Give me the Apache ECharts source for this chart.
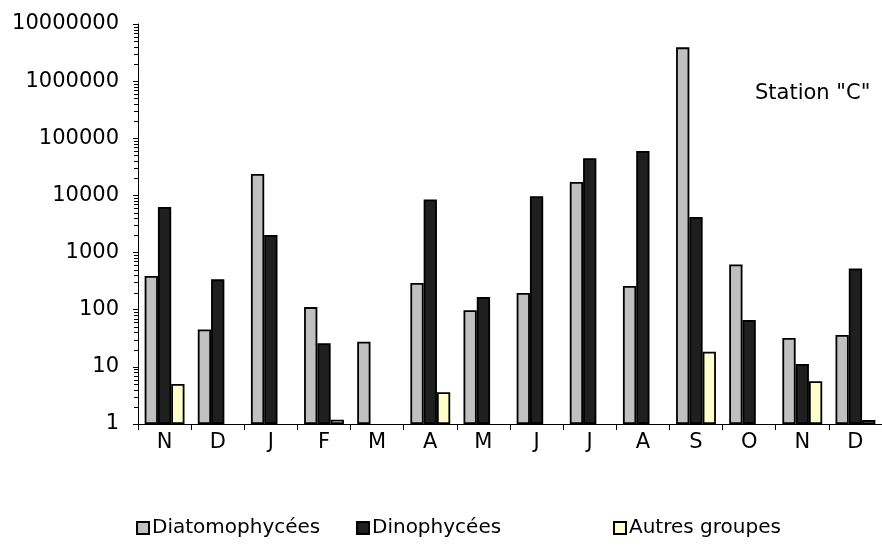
<!DOCTYPE html>
<html>
<head>
<meta charset="utf-8">
<script src="https://cdn.jsdelivr.net/npm/echarts@6/dist/echarts.min.js"></script>
<style>
html,body{margin:0;padding:0;background:#fff;}
#c{width:882px;height:546px;}
</style>
</head>
<body>
<div id="c"></div>
<script>
const categories = ['N','D','J','F','M','A','M','J','J','A','S','O','N','D'];
const seriesNames = ['Diatomophycées','Dinophycées','Autres groupes'];
const diatomophycees = [390, 45, 23700, 111, 27.5, 294, 98, 196, 17200, 260, 3900000, 620, 32, 36];
const dinophycees = [6300, 340, 2030, 26, null, 8500, 167, 9700, 44600, 60000, 4200, 66, 11.2, 524];
const autresGroupes = [5.0, null, null, 1.19, null, 3.6, null, null, null, null, 18.4, null, 5.6, 1.17];
const yTickLabels = ['1','10','100','1000','10000','100000','1000000','10000000'];
const minorMultipliers = [2,3,4,5,6,7,8,9];
const decades = [1,10,100,1000,10000,100000,1000000];

const colors = ['#c0c0c0', '#1f1f1f', '#ffffcc'];
const FONT = 'DejaVu Sans';

const minorTickData = [];
decades.forEach(d => minorMultipliers.forEach(m => minorTickData.push([0, d * m])));

function toData(arr){ return arr.map(v => v == null ? '-' : v); }

const chart = echarts.init(document.getElementById('c'), null, {renderer:'canvas'});

const barSeries = [diatomophycees, dinophycees, autresGroupes].map((arr, i) => ({
  name: seriesNames[i],
  type: 'bar',
  data: toData(arr),
  barGap: '0%',
  barCategoryGap: '25%',
  itemStyle: { color: colors[i], borderColor: '#000', borderWidth: 1.8 },
  emphasis: { disabled: true },
  animation: false
}));

const legendBase = {
  orient: 'horizontal',
  top: 513,
  itemWidth: 12,
  itemHeight: 12,
  itemGap: 0,
  textStyle: { fontFamily: FONT, fontSize: 20, color: '#000', padding: [0,0,0,-2] },
  selectedMode: false,
  icon: 'rect'
};

chart.setOption({
  backgroundColor: '#fff',
  animation: false,
  textStyle: { fontFamily: FONT },
  title: {
    text: 'Station "C"',
    left: 750,
    top: 78,
    textStyle: { fontFamily: FONT, fontSize: 21, fontWeight: 'normal', color: '#000' }
  },
  legend: [
    Object.assign({}, legendBase, { left: 131, data: [seriesNames[0]] }),
    Object.assign({}, legendBase, { left: 351, data: [seriesNames[1]] }),
    Object.assign({}, legendBase, { left: 608, data: [seriesNames[2]] })
  ],
  grid: { left: 138, top: 24, width: 745, height: 400, containLabel: false },
  xAxis: {
    type: 'category',
    data: categories,
    boundaryGap: true,
    axisLine: { show: true, lineStyle: { color: '#000', width: 1 } },
    axisTick: { show: true, length: 6, alignWithLabel: false, lineStyle: { color: '#000' } },
    axisLabel: { fontFamily: FONT, fontSize: 21, color: '#000', margin: 8, interval: 0 },
    splitLine: { show: false }
  },
  yAxis: {
    type: 'log',
    logBase: 10,
    min: 1,
    max: 10000000,
    splitNumber: 7,
    axisLine: { show: true, lineStyle: { color: '#000', width: 1 } },
    axisTick: { show: true, length: 5, lineStyle: { color: '#000' } },
    axisLabel: {
      fontFamily: FONT, fontSize: 21, color: '#000', margin: 19,
      formatter: function (v) {
        const idx = Math.round(Math.log10(v));
        return yTickLabels[idx] !== undefined ? yTickLabels[idx] : String(Math.round(v));
      }
    },
    splitLine: { show: false }
  },
  series: barSeries.concat([{
    type: 'custom',
    name: 'minorTicks',
    coordinateSystem: 'cartesian2d',
    silent: true,
    clip: false,
    z: 10,
    encode: { x: 0, y: 1 },
    data: minorTickData,
    renderItem: function (params, api) {
      const p = api.coord([api.value(0), api.value(1)]);
      const bw = api.size([1, 0])[0];
      const x0 = p[0] - bw / 2;
      return {
        type: 'line',
        shape: { x1: x0 - 4, y1: Math.round(p[1]) + 0.5, x2: x0, y2: Math.round(p[1]) + 0.5 },
        style: { stroke: '#000', lineWidth: 1 }
      };
    }
  }])
});
</script>
</body>
</html>
